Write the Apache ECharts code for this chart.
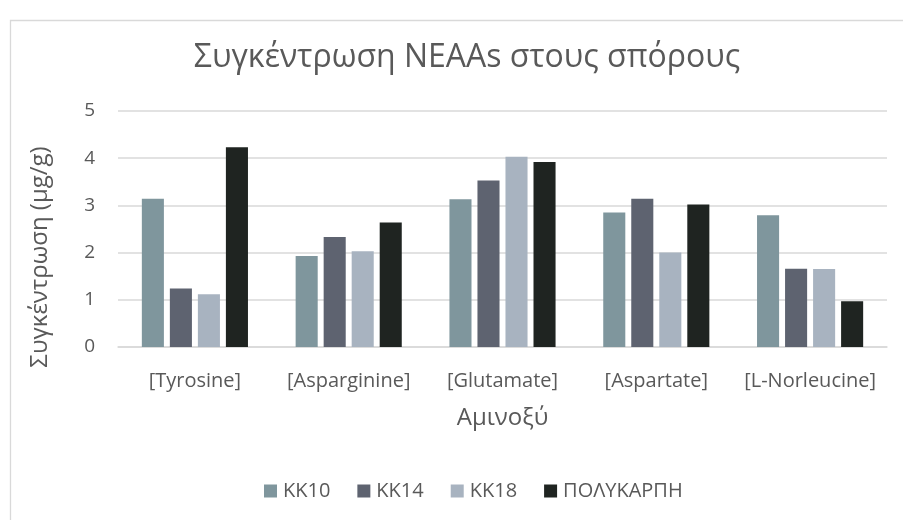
<!DOCTYPE html>
<html>
<head>
<meta charset="utf-8">
<script src="https://cdn.jsdelivr.net/npm/echarts@6/dist/echarts.min.js"></script>
<style>
  html, body { margin: 0; padding: 0; background: #fff; }
  #chart { width: 903px; height: 520px; }
</style>
</head>
<body>
<div id="chart"></div>
<script>
const categories = ['[Tyrosine]', '[Asparginine]', '[Glutamate]', '[Aspartate]', '[L-Norleucine]'];
const seriesNames = ['ΚΚ10', 'ΚΚ14', 'ΚΚ18', 'ΠΟΛΥΚΑΡΠΗ'];
const kk10 = [3.14, 1.93, 3.13, 2.85, 2.79];
const kk14 = [1.24, 2.33, 3.53, 3.14, 1.66];
const kk18 = [1.12, 2.03, 4.03, 2.0, 1.65];
const polykarpi = [4.23, 2.64, 3.92, 3.02, 0.97];
const yTicks = [0, 1, 2, 3, 4, 5];
const colors = ['#7f969d', '#5e6370', '#a8b3c0', '#1f2421'];

const font = 'Open Sans';
const textColor = '#595959';
const allValues = [kk10, kk14, kk18, polykarpi];

const chart = echarts.init(document.getElementById('chart'));

const series = seriesNames.map((name, i) => ({
  name,
  type: 'bar',
  data: allValues[i],
  barGap: '27%',
  barCategoryGap: '31%',
  itemStyle: { color: colors[i] },
}));

chart.setOption({
  animation: false,
  textStyle: { fontFamily: font },
  graphic: [
    {
      // chart area frame, runs past the right and bottom edges of the picture
      type: 'rect',
      shape: { x: 10.5, y: 20.5, width: 1000, height: 1000 },
      style: { fill: 'none', stroke: '#d9d9d9', lineWidth: 1.3 },
      silent: true,
    },
  ],
  title: {
    text: 'Συγκέντρωση NEAAs στους σπόρους',
    left: 462,
    textAlign: 'center',
    top: 37,
    textStyle: { fontFamily: font, fontSize: 32, fontWeight: 'normal', color: textColor },
  },
  legend: {
    top: 476,
    left: 259,
    itemWidth: 13,
    itemHeight: 13,
    itemGap: 27,
    icon: 'rect',
    textStyle: { fontFamily: font, fontSize: 20, color: textColor, padding: [0, 0, 0, 1] },
    data: seriesNames,
  },
  grid: { left: 118, right: 16, top: 111, bottom: 173 },
  xAxis: {
    type: 'category',
    data: categories,
    name: 'Αμινοξύ',
    nameLocation: 'middle',
    nameGap: 59,
    nameTextStyle: { fontFamily: font, fontSize: 24, color: textColor },
    axisLine: { lineStyle: { color: '#d9d9d9', width: 1.5 } },
    axisTick: { show: false },
    axisLabel: { interval: 0, fontFamily: font, fontSize: 20, color: textColor, margin: 24 },
  },
  yAxis: {
    type: 'value',
    min: yTicks[0],
    max: yTicks[yTicks.length - 1],
    interval: 1,
    name: 'Συγκέντρωση (μg/g)',
    nameLocation: 'middle',
    nameGap: 66,
    nameTextStyle: { fontFamily: font, fontSize: 24, color: textColor, padding: [0, 56, 0, 0] },
    axisLine: { show: false },
    axisTick: { show: false },
    axisLabel: { fontFamily: font, fontSize: 19, color: textColor, margin: 23 },
    splitLine: { lineStyle: { color: '#d9d9d9', width: 1.5 } },
  },
  series,
});
</script>
</body>
</html>
